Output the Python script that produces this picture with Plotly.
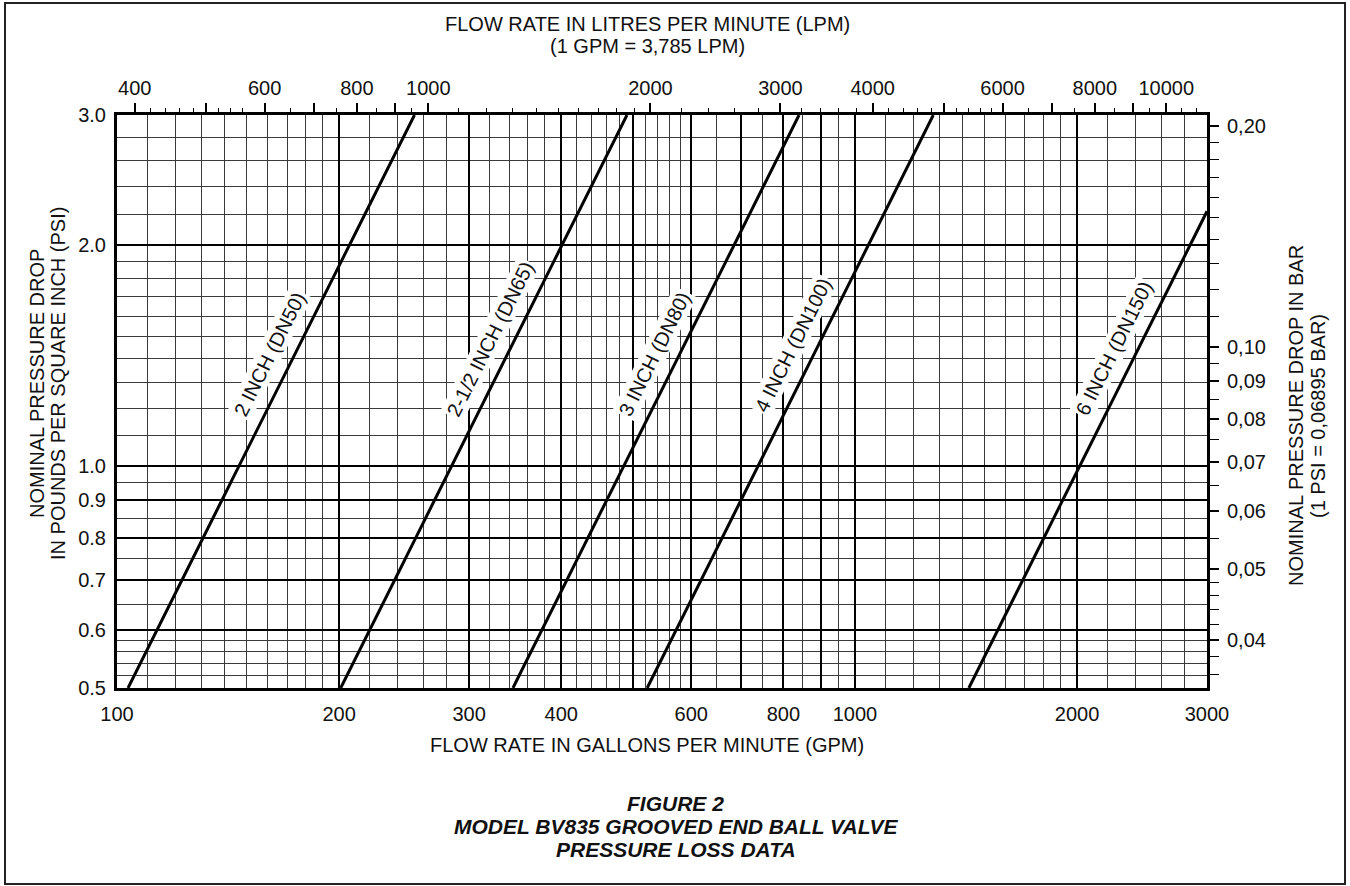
import math
import plotly.graph_objects as go

# ---------------- data ----------------
valve_sizes = ["2 INCH (DN50)", "2-1/2 INCH (DN65)", "3 INCH (DN80)", "4 INCH (DN100)", "6 INCH (DN150)"]
gpm_start = [103.5, 201.0, 344.0, 523.0, 1427.0]
psi_start = [0.5, 0.5, 0.5, 0.5, 0.5]
gpm_end = [253.0, 491.0, 840.0, 1277.0, 3000.0]
psi_end = [3.0, 3.0, 3.0, 3.0, 2.22]
label_psi = [1.42, 1.49, 1.42, 1.46, 1.45]

gpm_tick_labels = [100, 200, 300, 400, 600, 800, 1000, 2000, 3000]
psi_tick_labels = [0.5, 0.6, 0.7, 0.8, 0.9, 1.0, 2.0, 3.0]
lpm_tick_labels = [400, 600, 800, 1000, 2000, 3000, 4000, 6000, 8000, 10000]
bar_tick_labels = [0.04, 0.05, 0.06, 0.07, 0.08, 0.09, 0.10, 0.20]

GPM_TO_LPM = 3.785
PSI_TO_BAR = 0.06895

# ---------------- grid / tick layout lists ----------------
x_major = [100, 200, 300, 400, 500, 600, 700, 800, 900, 1000, 2000, 3000]
x_minor = (list(range(110, 200, 10)) + [v for v in range(220, 600, 20) if v % 100 != 0]
           + [650, 750, 850, 950] + list(range(1100, 2000, 100)) + [2200, 2400, 2600, 2800])
y_major = psi_tick_labels
y_minor = ([0.52, 0.54, 0.56, 0.58, 0.65, 0.75, 0.85, 0.95]
           + [1.1, 1.2, 1.3, 1.4, 1.5, 1.6, 1.7, 1.8, 1.9] + [2.2, 2.4, 2.6, 2.8])
lpm_long = [500, 700, 900, 5000, 7000, 9000]
lpm_minor = ([420, 440, 460, 480, 520, 540, 560, 650, 750, 850, 950]
             + list(range(1100, 2000, 100)) + [2200, 2400, 2600, 2800, 3200, 3400, 3600, 3800]
             + [4200, 4400, 4600, 4800, 5200, 5400, 5600, 5800, 6500, 7500, 8500, 9500, 10500, 11000])
bar_minor = ([0.036, 0.038, 0.042, 0.044, 0.046, 0.048, 0.055, 0.065, 0.075, 0.085, 0.095]
             + [0.11, 0.12, 0.13, 0.14, 0.15, 0.16, 0.17, 0.18, 0.19])

FONT = "Liberation Sans, Arial, Helvetica, sans-serif"
W, H = 1350, 886
L, R, T, B = 117, 143, 115, 198
PW, PH = W - L - R, H - T - B
X_RANGE = [math.log10(100), math.log10(3000)]
Y_RANGE = [math.log10(0.5), math.log10(3.0)]


def fmt_psi(v):
    return f"{v:.1f}"


def fmt_bar(v):
    return f"{v:.2f}".replace(".", ",")


fig = go.Figure()

for name, q0, p0, q1, p1 in zip(valve_sizes, gpm_start, psi_start, gpm_end, psi_end):
    fig.add_trace(go.Scatter(x=[q0, q1], y=[p0, p1], mode="lines", name=name,
                             line=dict(color="black", width=3), showlegend=False,
                             hoverinfo="skip"))

# invisible companions so the LPM and BAR axes are bound to data
fig.add_trace(go.Scatter(x=[q * GPM_TO_LPM for q in (gpm_start[0], gpm_end[0])],
                         y=[psi_start[0], psi_end[0]], xaxis="x2", yaxis="y",
                         mode="lines", line=dict(color="rgba(0,0,0,0)", width=0),
                         showlegend=False, hoverinfo="skip"))
fig.add_trace(go.Scatter(x=[gpm_start[0], gpm_end[0]],
                         y=[p * PSI_TO_BAR for p in (psi_start[0], psi_end[0])],
                         xaxis="x", yaxis="y2",
                         mode="lines", line=dict(color="rgba(0,0,0,0)", width=0),
                         showlegend=False, hoverinfo="skip"))

tickfont = dict(family=FONT, size=20, color="#111")

fig.update_layout(
    width=W, height=H,
    margin=dict(l=L, r=R, t=T, b=B),
    paper_bgcolor="white", plot_bgcolor="white",
    font=dict(family=FONT, color="#111"),
    xaxis=dict(type="log", range=X_RANGE, tickmode="array", tickvals=x_major,
               ticktext=[str(v) if v in gpm_tick_labels else "" for v in x_major],
               ticks="", showgrid=True, gridcolor="black", gridwidth=2,
               minor=dict(tickmode="array", tickvals=x_minor, showgrid=True,
                          gridcolor="#3a3a3a", gridwidth=1, ticks=""),
               showline=True, linecolor="black", linewidth=3, mirror=True,
               zeroline=False, tickfont=tickfont, ticklabelstandoff=6),
    yaxis=dict(type="log", range=Y_RANGE, tickmode="array", tickvals=y_major,
               ticktext=[fmt_psi(v) for v in y_major],
               ticks="", showgrid=True, gridcolor="black", gridwidth=2,
               minor=dict(tickmode="array", tickvals=y_minor, showgrid=True,
                          gridcolor="#3a3a3a", gridwidth=1, ticks=""),
               showline=True, linecolor="black", linewidth=3, mirror=True,
               zeroline=False, tickfont=tickfont, ticklabelstandoff=4),
    xaxis2=dict(type="log", overlaying="x", side="top", anchor="y",
                range=[X_RANGE[0] + math.log10(GPM_TO_LPM), X_RANGE[1] + math.log10(GPM_TO_LPM)],
                tickmode="array", tickvals=lpm_tick_labels + lpm_long,
                ticktext=[str(v) for v in lpm_tick_labels] + [""] * len(lpm_long),
                ticks="outside", ticklen=11, tickwidth=1.5, tickcolor="black",
                minor=dict(tickmode="array", tickvals=lpm_minor, ticks="outside",
                           ticklen=6, tickwidth=1, tickcolor="black", showgrid=False),
                showgrid=False, showline=False, zeroline=False, tickfont=tickfont,
                ticklabelstandoff=0),
    yaxis2=dict(type="log", overlaying="y", side="right", anchor="x",
                range=[Y_RANGE[0] + math.log10(PSI_TO_BAR), Y_RANGE[1] + math.log10(PSI_TO_BAR)],
                tickmode="array", tickvals=bar_tick_labels,
                ticktext=[fmt_bar(v) for v in bar_tick_labels],
                ticks="outside", ticklen=11, tickwidth=2, tickcolor="black",
                minor=dict(tickmode="array", tickvals=bar_minor, ticks="outside",
                           ticklen=11, tickwidth=1, tickcolor="black", showgrid=False),
                showgrid=False, showline=False, zeroline=False, tickfont=tickfont,
                ticklabelstandoff=4),
)


def px_to_paper_x(px):
    return (px - L) / PW


def py_to_paper_y(py):
    return (T + PH - py) / PH


ann = []
# labels along each curve
px_per_dec_x = PW / (X_RANGE[1] - X_RANGE[0])
px_per_dec_y = PH / (Y_RANGE[1] - Y_RANGE[0])
for name, q0, p0, q1, p1, lp in zip(valve_sizes, gpm_start, psi_start, gpm_end, psi_end, label_psi):
    t = math.log10(lp / p0) / math.log10(p1 / p0)
    q = 10 ** (math.log10(q0) + t * math.log10(q1 / q0))
    ang = math.degrees(math.atan2(math.log10(p1 / p0) * px_per_dec_y,
                                  math.log10(q1 / q0) * px_per_dec_x))
    ann.append(dict(x=math.log10(q), y=math.log10(lp), xref="x", yref="y", text=name,
                    xanchor="center", yanchor="middle",
                    showarrow=False, textangle=-ang, xshift=-25, bgcolor="white",
                    borderpad=1, font=dict(family=FONT, size=20, color="#111")))

title_font = dict(family=FONT, size=20, color="#111")


def paper_text(px, py, text, font, angle=0):
    return dict(x=px_to_paper_x(px), y=py_to_paper_y(py), xref="paper", yref="paper",
                xanchor="center", yanchor="middle", text=text, showarrow=False,
                textangle=angle, font=font)


ann += [
    paper_text(647, 24, "FLOW RATE IN LITRES PER MINUTE (LPM)", title_font),
    paper_text(647, 46, "(1 GPM = 3,785 LPM)", title_font),
    paper_text(647, 745, "FLOW RATE IN GALLONS PER MINUTE (GPM)", title_font),
    paper_text(37, 384, "NOMINAL PRESSURE DROP", title_font, -90),
    paper_text(58, 384, "IN POUNDS PER SQUARE INCH (PSI)", title_font, -90),
    paper_text(1296, 416, "NOMINAL PRESSURE DROP IN BAR", title_font, -90),
    paper_text(1318, 416, "(1 PSI = 0,06895 BAR)", title_font, -90),
]
fig_font = dict(family=FONT, size=21, color="#111")
for txt, yy in [("FIGURE 2", 803), ("MODEL BV835 GROOVED END BALL VALVE", 826),
                ("PRESSURE LOSS DATA", 849)]:
    ann.append(paper_text(676, yy, f"<b><i>{txt}</i></b>", fig_font))

fig.update_layout(annotations=ann)

fig.add_shape(type="rect", xref="paper", yref="paper",
              x0=px_to_paper_x(5), x1=px_to_paper_x(1345),
              y0=py_to_paper_y(884), y1=py_to_paper_y(3),
              line=dict(color="#222", width=2), fillcolor="rgba(0,0,0,0)", layer="above")

fig.write_html("out.html", config={"displayModeBar": False},
               post_script="document.body.style.margin='0px';")
